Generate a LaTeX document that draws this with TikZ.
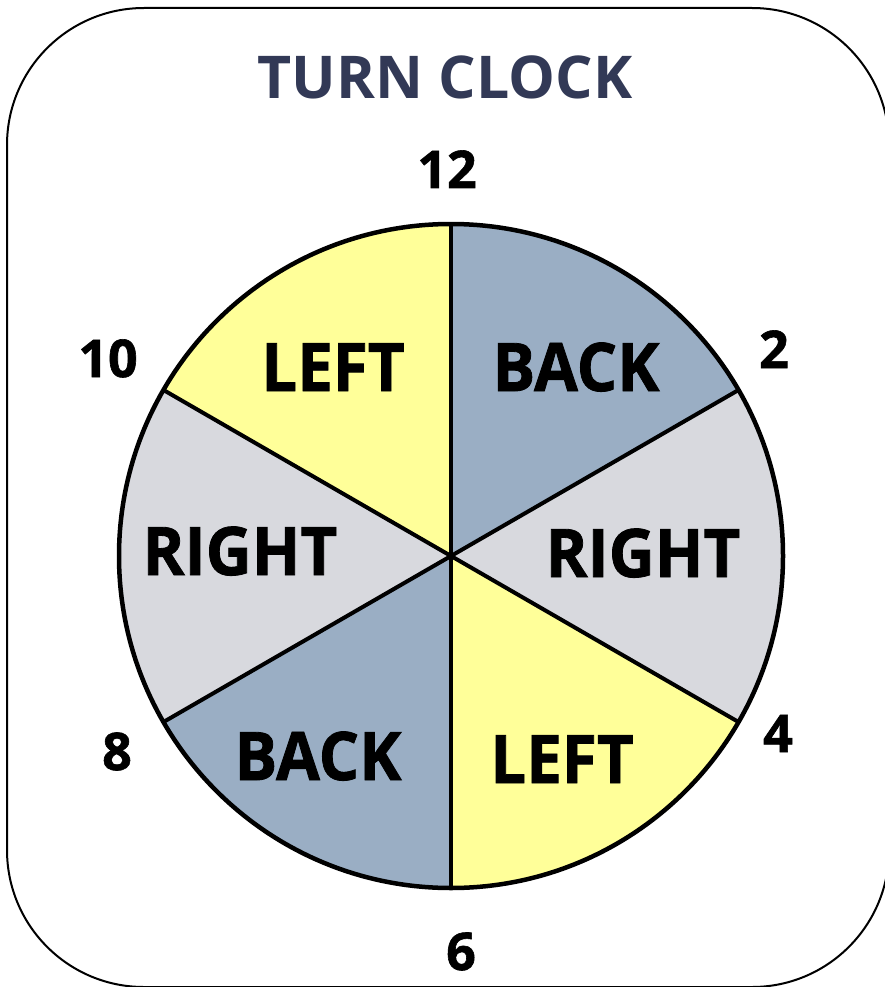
\documentclass[tikz,border=0pt]{standalone}
\usepackage{fontspec}
\usepackage{graphicx}
\setmainfont{Open Sans}[BoldFont={* Bold}]
\newfontfamily\heavyfont{Open Sans Bold}[FakeBold=1.2]
\usetikzlibrary{calc}
\definecolor{titleblue}{RGB}{50,57,86}
\definecolor{secyellow}{RGB}{255,255,153}
\definecolor{secblue}{RGB}{154,174,196}
\definecolor{secgray}{RGB}{216,217,222}
\newcommand{\lbltext}[1]{\scalebox{0.95}[1]{#1}}
\begin{document}
\begin{tikzpicture}[x=1pt,y=1pt,
  lbl/.style={anchor=base,inner sep=0pt,font=\fontsize{67}{67}\selectfont\heavyfont},
  num/.style={anchor=base,inner sep=0pt,font=\fontsize{52}{52}\selectfont\heavyfont},
  spoke/.style={line width=4pt}]
\useasboundingbox (0,0) rectangle (884,-987);
\draw[line width=2pt,rounded corners=137pt] (7,-8) rectangle (889,-987);
\coordinate (c) at (451,-556);
\def\R{332}
\fill[secblue]   (c) -- ++(30:\R) arc[start angle=30,end angle=90,radius=\R] -- cycle;
\fill[secyellow] (c) -- ++(90:\R) arc[start angle=90,end angle=150,radius=\R] -- cycle;
\fill[secgray]   (c) -- ++(150:\R) arc[start angle=150,end angle=210,radius=\R] -- cycle;
\fill[secblue]   (c) -- ++(210:\R) arc[start angle=210,end angle=270,radius=\R] -- cycle;
\fill[secyellow] (c) -- ++(270:\R) arc[start angle=270,end angle=330,radius=\R] -- cycle;
\fill[secgray]   (c) -- ++(330:\R) arc[start angle=330,end angle=390,radius=\R] -- cycle;
\foreach \a/\n in {90/p12,30/p2,330/p4,270/p6,210/p8,150/p10}{
  \coordinate (\n) at ($(c)+(\a:\R)$);
}
\foreach \n in {p12,p2,p4,p6,p8,p10}{\draw[spoke] (c) -- (\n);}
\draw[line width=4.5pt] (c) circle[radius=\R];
\node[anchor=base,inner sep=0pt,text=titleblue,font=\fontsize{59}{59}\selectfont\bfseries] (title) at (445,-99) {TURN CLOCK};
\node[lbl] (leftA) at (333,-391) {\lbltext{LEFT}};
\node[lbl] (backA) at (576,-391) {\lbltext{BACK}};
\node[lbl] (rightA) at (240,-575) {\lbltext{RIGHT}};
\node[lbl] (rightB) at (643,-577) {\lbltext{RIGHT}};
\node[lbl] (backB) at (318,-780) {\lbltext{BACK}};
\node[lbl] (leftB) at (562,-783) {\lbltext{LEFT}};
\node[num] (n12) at (447,-188) {12};
\node[num] (n2) at (774,-368) {2};
\node[num] (n10) at (108,-377) {10};
\node[num] (n4) at (778,-752) {4};
\node[num] (n8) at (117,-770) {8};
\node[num] (n6) at (461,-970) {6};
\end{tikzpicture}
\end{document}
